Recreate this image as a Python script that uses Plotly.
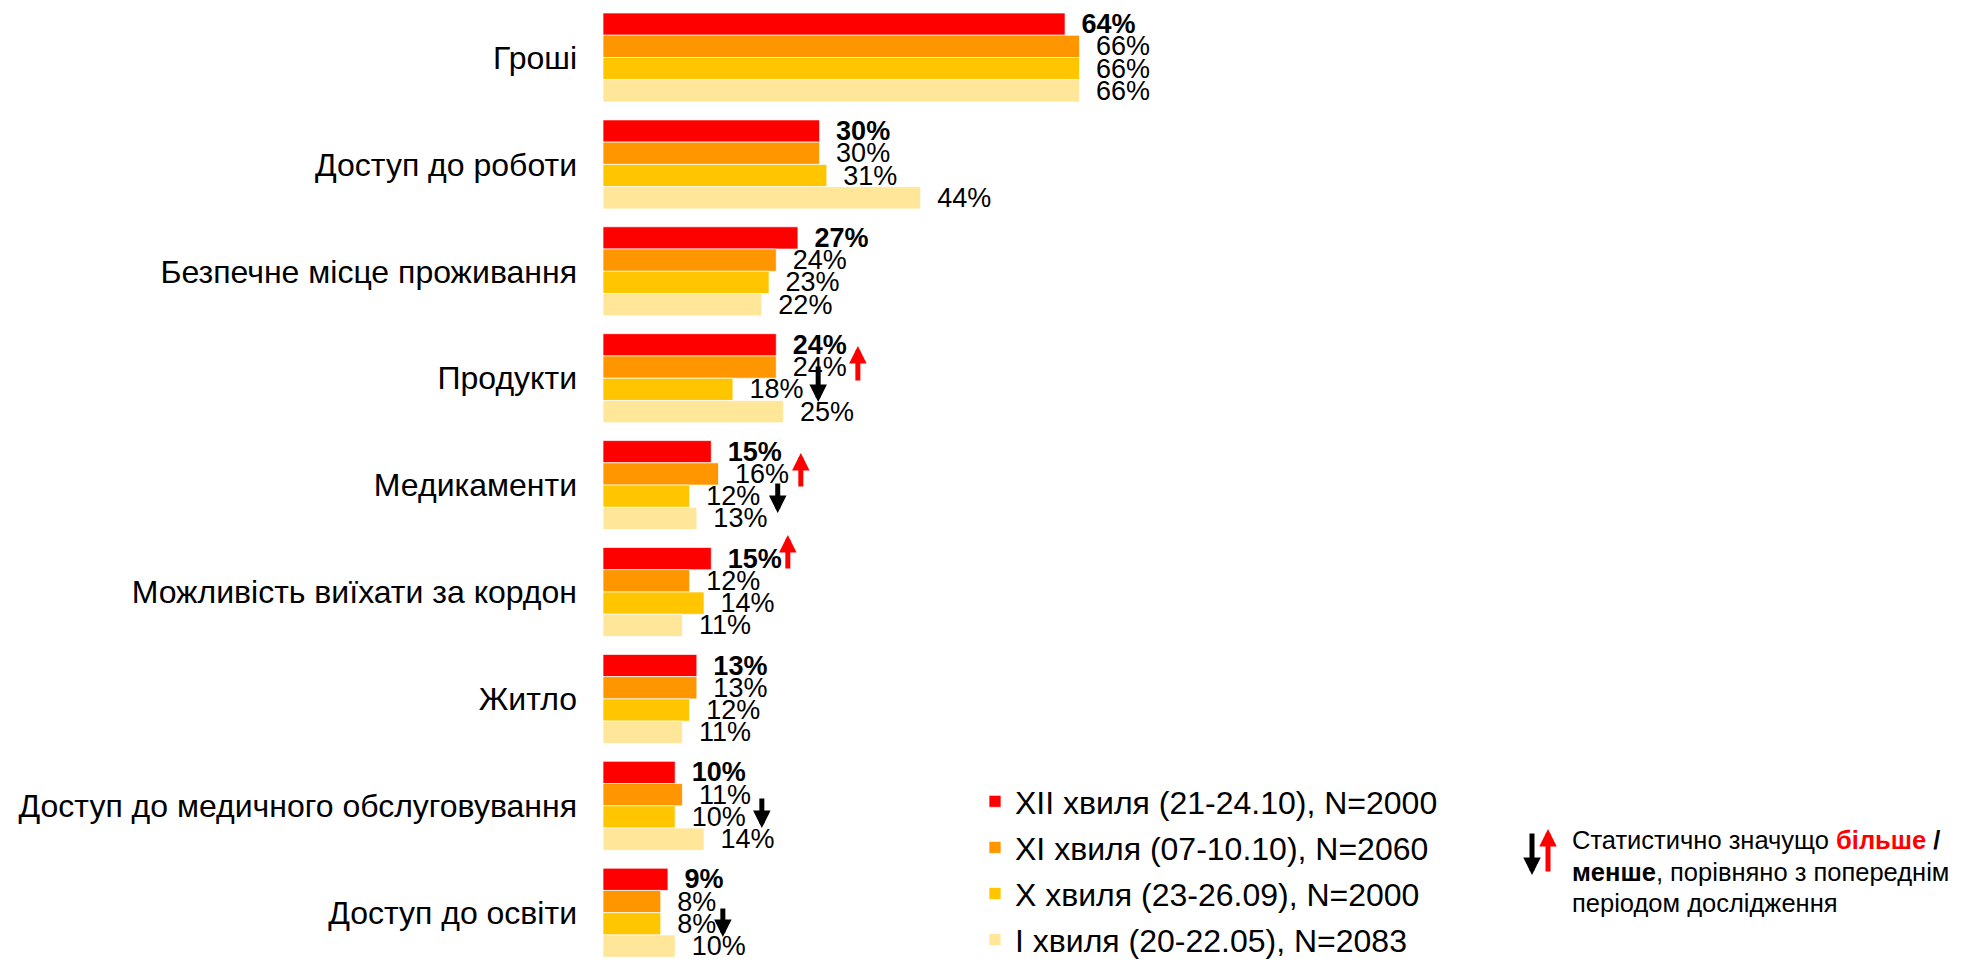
import plotly.graph_objects as go

categories = [
    "Гроші",
    "Доступ до роботи",
    "Безпечне місце проживання",
    "Продукти",
    "Медикаменти",
    "Можливість виїхати за кордон",
    "Житло",
    "Доступ до медичного обслуговування",
    "Доступ до освіти",
]
series_names = [
    "XII хвиля (21-24.10), N=2000",
    "XI хвиля (07-10.10), N=2060",
    "X хвиля (23-26.09), N=2000",
    "I хвиля (20-22.05), N=2083",
]
values_xii = [64, 30, 27, 24, 15, 15, 13, 10, 9]
values_xi = [66, 30, 24, 24, 16, 12, 13, 11, 8]
values_x = [66, 31, 23, 18, 12, 14, 12, 10, 8]
values_i = [66, 44, 22, 25, 13, 11, 11, 14, 10]
series_values = [values_xii, values_xi, values_x, values_i]
colors = ["#FF0000", "#FF9600", "#FFC600", "#FFE699"]

# significance arrows: (category index, x in %, tail offset, tip offset, colour)
sig_arrows = [
    (3, 35.3, 0.036, -0.301, "#FF0000"),
    (3, 29.8, -0.123, 0.223, "#000000"),
    (4, 27.4, 0.027, -0.300, "#FF0000"),
    (4, 24.2, -0.029, 0.261, "#000000"),
    (5, 25.6, -0.206, -0.533, "#FF0000"),
    (7, 22.0, -0.082, 0.208, "#000000"),
    (8, 16.6, -0.053, 0.227, "#000000"),
]

note_lines = [
    "Статистично значущо <span style='color:#FF0000'><b>більше</b></span> <b>/</b>",
    "<b>менше</b>, порівняно з попереднім",
    "періодом дослідження",
]

FONT = "Arial, Liberation Sans, sans-serif"
W, H = 1972, 961
ML = 603
PXPCT = 7.22
PITCH = 106.9
C0 = 57.5                    # centre of first category in pixels

fig = go.Figure()
for k, (name, vals, col) in enumerate(zip(series_names, series_values, colors)):
    tmpl = "\u2002<b>%{x}%</b>" if k == 0 else "\u2002%{x}%"
    fig.add_trace(go.Bar(
        y=categories, x=vals, name=name, orientation="h",
        marker=dict(color=col, line=dict(color="rgba(255,255,255,0.7)", width=1)),
        texttemplate=tmpl, textposition="outside", constraintext="none",
        cliponaxis=False,
        textfont=dict(family=FONT, size=27, color="#000000"),
        legendgroup=f"g{k}", hoverinfo="skip",
    ))

annotations = []
for ci, xv, tail, tip, col in sig_arrows:
    annotations.append(dict(
        x=xv, y=ci + tip, ax=xv, ay=ci + tail,
        xref="x", yref="y", axref="x", ayref="y",
        showarrow=True, arrowhead=2, arrowwidth=5, arrowsize=0.7,
        arrowcolor=col, text="", standoff=0,
    ))

def px_x(p):
    return (p - ML) / (W - ML)

def px_y(p):
    return 1 - p / H

# note arrows
annotations.append(dict(x=px_x(1532), y=px_y(875), xref="paper", yref="paper",
                        ax=0, ay=-43, axref="pixel", ayref="pixel", showarrow=True,
                        arrowhead=2, arrowwidth=5, arrowsize=0.7, arrowcolor="#000000", text=""))
annotations.append(dict(x=px_x(1548), y=px_y(829), xref="paper", yref="paper",
                        ax=0, ay=44, axref="pixel", ayref="pixel", showarrow=True,
                        arrowhead=2, arrowwidth=5, arrowsize=0.7, arrowcolor="#FF0000", text=""))
for line, py in zip(note_lines, [840, 872, 903]):
    annotations.append(dict(
        x=px_x(1570), y=px_y(py), xref="paper", yref="paper", xanchor="left", yanchor="middle",
        align="left", showarrow=False, text=line,
        font=dict(family=FONT, size=25.5, color="#000000"),
    ))

fig.update_layout(
    width=W, height=H,
    margin=dict(l=ML, r=0, t=0, b=0, autoexpand=False),
    paper_bgcolor="white", plot_bgcolor="white",
    barmode="group", bargap=0.167, bargroupgap=0,
    font=dict(family=FONT, color="#000000"),
    xaxis=dict(range=[0, (W - ML) / PXPCT], visible=False, fixedrange=True),
    yaxis=dict(range=[(H - C0) / PITCH, -C0 / PITCH], showgrid=False, zeroline=False,
               showline=False, ticks="", ticklabelstandoff=25,
               tickfont=dict(family=FONT, size=32, color="#000000"), fixedrange=True),
    legend=dict(x=px_x(975), y=px_y(774), xanchor="left", yanchor="top",
                font=dict(family=FONT, size=32, color="#000000"),
                tracegroupgap=1.5, bgcolor="rgba(0,0,0,0)", traceorder="grouped"),
    annotations=annotations,
    showlegend=True,
)

fig.write_html(
    "out.html",
    config={"displayModeBar": False, "staticPlot": True},
    post_script="document.body.style.margin='0';document.body.style.overflow='hidden';",
)
